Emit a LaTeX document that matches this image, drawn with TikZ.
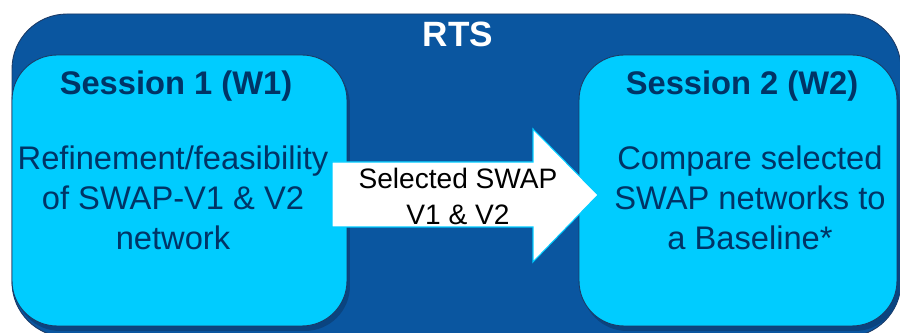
\documentclass[tikz,border=0pt]{standalone}
\usepackage{fontspec}
\setmainfont{Liberation Sans}
\usetikzlibrary{positioning,shadows}
\definecolor{rtsblue}{HTML}{0A56A0}
\definecolor{sessioncyan}{HTML}{00CCFF}
\definecolor{navytext}{HTML}{003466}
\definecolor{edgeblue}{HTML}{1B3A66}
\definecolor{shadowblue}{HTML}{0A4480}

\begin{document}
\begin{tikzpicture}[
  x=0.02cm, y=-0.02cm,
  frame/.style={draw=edgeblue, fill=rtsblue, line width=0.5pt, rounded corners=1.1cm},
  session/.style={draw=edgeblue, fill=sessioncyan, line width=0.5pt, rounded corners=0.9cm, inner sep=0pt,
    drop shadow={shadow xshift=0.06cm, shadow yshift=-0.1cm, fill=shadowblue, opacity=1}},
  title/.style={font=\fontsize{18.6}{22.8}\selectfont\bfseries, text=navytext, anchor=base},
  body/.style={font=\fontsize{18.6}{22.8}\selectfont, text=navytext, align=center},
  blockarrow/.style={draw=sessioncyan, fill=white, line width=0.6pt}
]
\useasboundingbox (0,0) rectangle (900,333);
\clip (0,0) rectangle (900,333);

% outer RTS frame
\draw[frame] (12,14) rectangle (901,337);
\node[font=\fontsize{20}{24}\selectfont\bfseries, text=white, anchor=base] (rts) at (458,47) {RTS};

% sessions
\node[session, minimum width=6.7cm, minimum height=5.42cm] (s1box) at (179.5,190.5) {};
\node[session, minimum width=6.36cm, minimum height=5.42cm] (s2box) at (738,190.5) {};

\node[title] (s1title) at (176,95) {Session 1 (W1)};
\node[title] (s2title) at (742,95) {Session 2 (W2)};

\node[body] (s1text) at (173,198) {Refinement/feasibility\\of SWAP-V1 \& V2\\network};
\node[body] (s2text) at (750,198) {Compare selected\\SWAP networks to\\a Baseline*};

% block arrow between the sessions
\filldraw[blockarrow] (332,162) -- (533,162) -- (533,129) -- (598,195)
  -- (533,262) -- (533,227) -- (332,227) -- cycle;
\node[font=\fontsize{16}{20.5}\selectfont, align=center] (swaplabel) at (458,196) {Selected SWAP\\V1 \& V2};

\end{tikzpicture}
\end{document}
